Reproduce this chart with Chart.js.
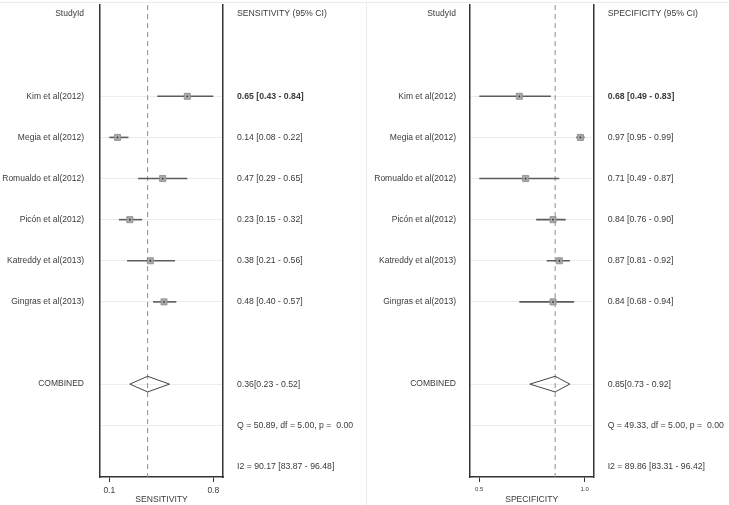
<!DOCTYPE html>
<html><head><meta charset="utf-8">
<script src="https://cdn.jsdelivr.net/npm/chart.js@4.4.1/dist/chart.umd.min.js"></script>
<style>
html,body{margin:0;padding:0;background:#fff;}
#wrap{position:relative;width:729px;height:505px;overflow:hidden;background:#fff;}
.panel{position:absolute;top:0;height:505px;}
#p1{left:0;width:365px;}
#p2{left:365px;width:364px;}
.sepTop{position:absolute;left:0;top:2px;width:729px;height:0;border-top:1px solid #ebebeb;}
.sepV{position:absolute;left:366px;top:2px;width:0;height:503px;border-left:1px solid #ebebeb;}
canvas{display:block;}
</style></head><body>
<div id="wrap">
<div class="sepTop"></div><div class="sepV"></div>
<div class="panel" id="p1"><canvas id="c1" width="365" height="505"></canvas></div>
<div class="panel" id="p2"><canvas id="c2" width="364" height="505"></canvas></div>
</div>
<script>
// ---- data ----
const studies = ["Kim et al(2012)", "Megia et al(2012)", "Romualdo et al(2012)", "Picón et al(2012)", "Katreddy et al(2013)", "Gingras et al(2013)"];
const sensEst = [0.65, 0.14, 0.47, 0.23, 0.38, 0.48];
const sensLo  = [0.43, 0.08, 0.29, 0.15, 0.21, 0.40];
const sensHi  = [0.84, 0.22, 0.65, 0.32, 0.56, 0.57];
const specEst = [0.68, 0.97, 0.71, 0.84, 0.87, 0.84];
const specLo  = [0.49, 0.95, 0.49, 0.76, 0.81, 0.68];
const specHi  = [0.83, 0.99, 0.87, 0.90, 0.92, 0.94];
const sensPooled = [0.36, 0.23, 0.52];   // estimate, lower, upper
const specPooled = [0.85, 0.73, 0.92];
const sensStats = ["Q = 50.89, df = 5.00, p =  0.00", "I2 = 90.17 [83.87 - 96.48]"];
const specStats = ["Q = 49.33, df = 5.00, p =  0.00", "I2 = 89.86 [83.31 - 96.42]"];
const sensTicks = [0.08, 0.84];  // shown rounded: 0.1, 0.8
const specTicks = [0.49, 0.99];  // shown rounded: 0.5, 1.0

// ---- layout / style ----
const ROW_MIN = -0.218, ROW_MAX = 11.259;
const FONT = "'Liberation Sans', Arial, sans-serif";
const TXT = '#3a3a3a';
const FIRST_ROW = 2, POOLED_ROW = 9, Q_ROW = 10, I2_ROW = 11;

function ciText(e, l, h) { return e.toFixed(2) + ' [' + l.toFixed(2) + ' - ' + h.toFixed(2) + ']'; }

function makePanel(canvasId, cfg) {
  const leftLabels = {0: 'StudyId'};
  studies.forEach((s, i) => leftLabels[FIRST_ROW + i] = s);
  leftLabels[POOLED_ROW] = 'COMBINED';
  const rightLabels = {0: cfg.header};
  cfg.est.forEach((e, i) => rightLabels[FIRST_ROW + i] = ciText(e, cfg.lo[i], cfg.hi[i]));
  rightLabels[POOLED_ROW] = cfg.pooled[0].toFixed(2) + '[' + cfg.pooled[1].toFixed(2) + ' - ' + cfg.pooled[2].toFixed(2) + ']';
  rightLabels[Q_ROW] = cfg.stats[0];
  rightLabels[I2_ROW] = cfg.stats[1];
  const gridRows = studies.map((s, i) => FIRST_ROW + i).concat([POOLED_ROW, Q_ROW]);
  const rowValues = Array.from({length: I2_ROW + 1}, (_, i) => i);

  const datasets = [];
  datasets.push({
    data: [{x: cfg.pooled[0], y: ROW_MIN}, {x: cfg.pooled[0], y: ROW_MAX}],
    showLine: true, borderColor: '#8c8c8c', borderWidth: 1, borderDash: [5, 4],
    pointRadius: 0, order: 6
  });
  cfg.est.forEach((e, i) => {
    datasets.push({
      data: [{x: cfg.lo[i], y: FIRST_ROW + i}, {x: cfg.hi[i], y: FIRST_ROW + i}],
      showLine: true, borderColor: '#5c5c5c', borderWidth: 1.6, pointRadius: 0, order: 5
    });
  });
  const pts = cfg.est.map((e, i) => ({x: e, y: FIRST_ROW + i}));
  datasets.push({
    data: pts, pointStyle: 'rect', pointRadius: 4.3,
    backgroundColor: '#a9a9a9', borderColor: '#8a8a8a', borderWidth: 0.8, order: 2
  });
  datasets.push({
    data: pts, pointStyle: 'circle', pointRadius: 0.9,
    backgroundColor: '#333', borderWidth: 0, order: 1
  });
  const [pe, pl, ph] = cfg.pooled; const dh = 0.19;
  datasets.push({
    data: [{x: pl, y: POOLED_ROW}, {x: pe, y: POOLED_ROW - dh}, {x: ph, y: POOLED_ROW},
           {x: pe, y: POOLED_ROW + dh}, {x: pl, y: POOLED_ROW}],
    showLine: true, borderColor: '#444', borderWidth: 1, pointRadius: 0, fill: false, tension: 0, order: 3
  });

  new Chart(document.getElementById(canvasId), {
    type: 'scatter',
    data: {datasets},
    options: {
      responsive: false, animation: false, devicePixelRatio: 1,
      layout: {padding: {top: 3, left: 0, right: 0, bottom: 0}},
      plugins: {legend: {display: false}, tooltip: {enabled: false}},
      scales: {
        x: {
          type: 'linear', position: 'bottom', min: cfg.xmin, max: cfg.xmax,
          afterBuildTicks: s => { s.ticks = cfg.ticks.map(v => ({value: v})); },
          afterFit: s => { s.height = 28; s.paddingLeft = 0; s.paddingRight = 0; },
          ticks: {callback: v => Number(v).toFixed(1), font: {family: FONT, size: cfg.tickSize}, color: TXT,
                  padding: 3.5, autoSkip: false, maxRotation: 0},
          grid: {drawOnChartArea: false, drawTicks: true, tickLength: 5, color: '#333', lineWidth: 1},
          border: {display: true, color: '#333', width: 1.5},
          title: {display: true, text: cfg.axisTitle, font: {family: FONT, size: 8.6}, color: TXT, padding: 0}
        },
        y: {
          type: 'linear', position: 'left', reverse: true, min: ROW_MIN, max: ROW_MAX,
          afterBuildTicks: s => { s.ticks = rowValues.map(v => ({value: v})); },
          afterFit: s => { s.width = cfg.leftW; s.paddingTop = 0; s.paddingBottom = 0; },
          ticks: {callback: v => leftLabels[v] || '', font: {family: FONT, size: 8.5}, color: TXT,
                  padding: cfg.leftPad, autoSkip: false},
          grid: {drawTicks: false, lineWidth: 1,
                 color: ctx => (ctx.tick && gridRows.includes(ctx.tick.value)) ? '#ececec' : 'rgba(0,0,0,0)'},
          border: {display: true, color: '#333', width: 1.5}
        },
        y2: {
          type: 'linear', position: 'right', reverse: true, min: ROW_MIN, max: ROW_MAX,
          afterBuildTicks: s => { s.ticks = rowValues.map(v => ({value: v})); },
          afterFit: s => { s.width = cfg.rightW; s.paddingTop = 0; s.paddingBottom = 0; },
          ticks: {callback: v => rightLabels[v] || '', color: TXT, padding: cfg.rightPad, autoSkip: false,
                  font: ctx => ({family: FONT, size: 8.7, weight: ctx.index === FIRST_ROW ? 'bold' : 'normal'})},
          grid: {drawOnChartArea: false, drawTicks: false},
          border: {display: true, color: '#333', width: 1.5}
        }
      }
    }
  });
}

makePanel('c1', {
  est: sensEst, lo: sensLo, hi: sensHi, pooled: sensPooled, stats: sensStats, ticks: sensTicks,
  header: 'SENSITIVITY (95% CI)', axisTitle: 'SENSITIVITY',
  xmin: 0.012, xmax: 0.911, tickSize: 8.5, leftW: 100, rightW: 142, leftPad: 16, rightPad: 14
});
makePanel('c2', {
  est: specEst, lo: specLo, hi: specHi, pooled: specPooled, stats: specStats, ticks: specTicks,
  header: 'SPECIFICITY (95% CI)', axisTitle: 'SPECIFICITY',
  xmin: 0.446, xmax: 1.031, tickSize: 6, leftW: 105, rightW: 135.7, leftPad: 14, rightPad: 14.4
});
</script>
</body></html>
